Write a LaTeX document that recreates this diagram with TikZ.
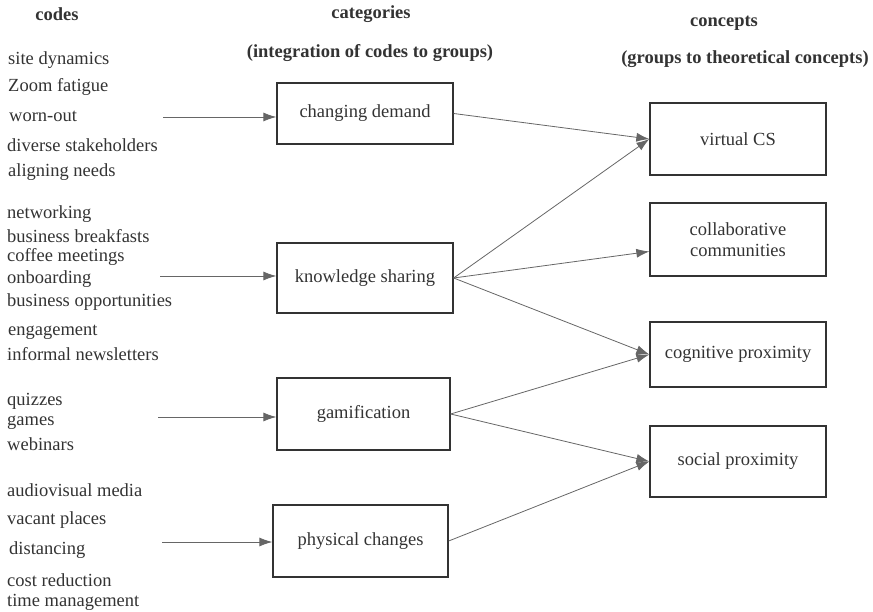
\documentclass[tikz,border=0pt]{standalone}
\usepackage{fontspec}
\setmainfont{Liberation Serif}
\usepackage{xcolor}
\usetikzlibrary{arrows.meta,positioning,calc}
\colorlet{boxgray}{black!80}
\colorlet{linegray}{black!60}
\colorlet{txtgray}{black!80}
\newcommand{\boxwd}{176pt}
\tikzset{
    headsty/.style={font=\fontsize{18.5}{21}\selectfont\bfseries,text=txtgray,anchor=center,inner sep=0pt,yshift=-1.5pt},
    codesty/.style={font=\fontsize{18.5}{21}\selectfont,text=txtgray,anchor=west,inner sep=0pt,yshift=-2pt},
    boxsty/.style={draw=boxgray,line width=1.3pt,rectangle,minimum width=\boxwd,minimum height=70pt,
                   font=\fontsize{18.5}{21}\selectfont,text=txtgray,align=center,anchor=center},
    arrsty/.style={draw=linegray,line width=0.8pt,->},
}
\begin{document}
\begin{tikzpicture}[x=1pt,y=-1pt,>={Latex[length=13pt,width=9pt]}]
  \useasboundingbox (0,0) rectangle (873,612);

  % headers
  \node[headsty] (hcodes) at (57,13) {codes};
  \node[headsty] (hcat) at (371,13) {categories};
  \node[headsty] (hcatsub) at (370,52) {(integration of codes to groups)};
  \node[headsty] (hcon) at (724,22) {concepts};
  \node[headsty] (hconsub) at (745,58) {(groups to theoretical concepts)};

  % codes
  \node[codesty] (c1) at (8,58) {site dynamics};
  \node[codesty] (c2) at (8,85) {Zoom fatigue};
  \node[codesty] (c3) at (9,114) {worn-out};
  \node[codesty] (c4) at (7,143) {diverse stakeholders};
  \node[codesty] (c5) at (8,170) {aligning needs};
  \node[codesty] (c6) at (7,212) {networking};
  \node[codesty] (c7) at (7,234) {business breakfasts};
  \node[codesty] (c8) at (7,255) {coffee meetings};
  \node[codesty] (c9) at (7,277) {onboarding};
  \node[codesty] (c10) at (7,300) {business opportunities};
  \node[codesty] (c11) at (8,330) {engagement};
  \node[codesty] (c12) at (7,352) {informal newsletters};
  \node[codesty] (c13) at (7,399) {quizzes};
  \node[codesty] (c14) at (7,421) {games};
  \node[codesty] (c15) at (7,442) {webinars};
  \node[codesty] (c16) at (7,488) {audiovisual media};
  \node[codesty] (c17) at (7,518) {vacant places};
  \node[codesty] (c18) at (9,548) {distancing};
  \node[codesty] (c19) at (7,578) {cost reduction};
  \node[codesty] (c20) at (7,600) {time management};

  % categories
  \node[boxsty,minimum height=61pt] (demand) at (365,113.5) {changing demand};
  \node[boxsty] (knowledge) at (365,278) {knowledge sharing};
  \node[boxsty,minimum width=173pt,minimum height=72pt] (gamif) at (363.5,414) {gamification};
  \node[boxsty,minimum width=175pt,minimum height=72pt] (physical) at (360.5,541) {physical changes};

  % concepts
  \node[boxsty,minimum height=72pt] (virtual) at (738,139) {virtual CS};
  \node[boxsty,minimum height=73pt] (collab) at (738,239.5) {collaborative\\communities};
  \node[boxsty,minimum height=65pt] (cognitive) at (738,354.5) {cognitive proximity};
  \node[boxsty,minimum height=71pt] (social) at (738,461.5) {social proximity};

  % codes to categories
  \coordinate (demand-in) at (163,117);
  \coordinate (knowledge-in) at (160,276);
  \coordinate (gamif-in) at (158,417);
  \coordinate (physical-in) at (162,542);
  \draw[arrsty] (demand-in) -- (demand-in -| demand.west);
  \draw[arrsty] (knowledge-in) -- (knowledge-in -| knowledge.west);
  \draw[arrsty] (gamif-in) -- (gamif-in -| gamif.west);
  \draw[arrsty] (physical-in) -- (physical-in -| physical.west);

  % categories to concepts
  \draw[arrsty] (demand.east) -- (virtual.west);
  \draw[arrsty] (knowledge.east) -- (virtual.west);
  \draw[arrsty] (knowledge.east) -- ([yshift=-12pt]collab.west);
  \draw[arrsty] (knowledge.east) -- (cognitive.west);
  \draw[arrsty] (gamif.east) -- (cognitive.west);
  \draw[arrsty] (gamif.east) -- (social.west);
  \draw[arrsty] (physical.east) -- (social.west);
\end{tikzpicture}
\end{document}
